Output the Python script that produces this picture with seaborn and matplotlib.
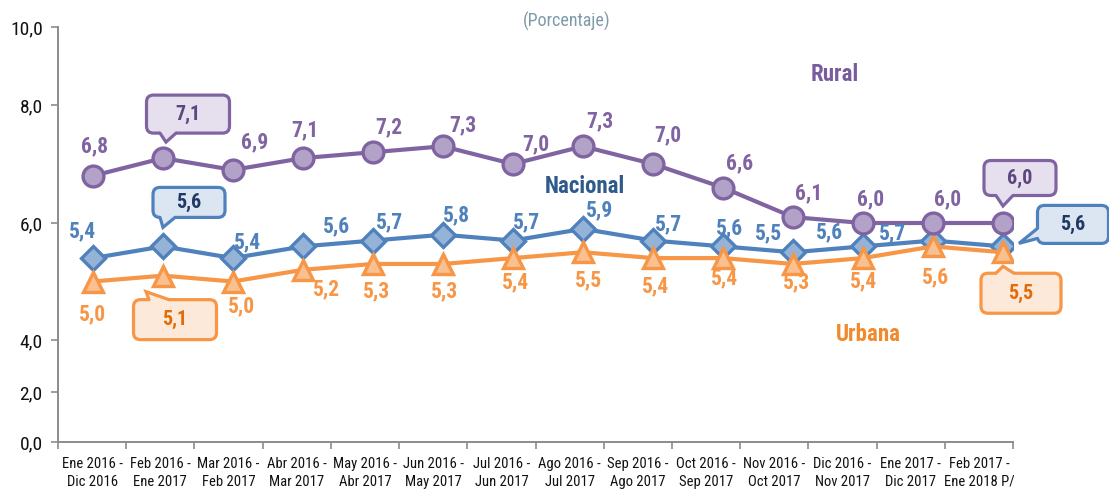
import numpy as np
import pandas as pd
import matplotlib
matplotlib.use("Agg")
import matplotlib.pyplot as plt
import seaborn as sns
from matplotlib import font_manager
from matplotlib.patches import FancyBboxPatch, Polygon
from matplotlib.lines import Line2D
from matplotlib.transforms import IdentityTransform

# ---- data -------------------------------------------------------------
periodos = [
    "Ene 2016 -\nDic 2016", "Feb 2016 -\nEne 2017", "Mar 2016 -\nFeb 2017",
    "Abr 2016 -\nMar 2017", "May 2016 -\nAbr 2017", "Jun 2016 -\nMay 2017",
    "Jul 2016 -\nJun 2017", "Ago 2016 -\nJul 2017", "Sep 2016 -\nAgo 2017",
    "Oct 2016 -\nSep 2017", "Nov 2016 -\nOct 2017", "Dic 2016 -\nNov 2017",
    "Ene 2017 -\nDic 2017", "Feb 2017 -\nEne 2018 P/",
]
rural = [6.8, 7.1, 6.9, 7.1, 7.2, 7.3, 7.0, 7.3, 7.0, 6.6, 6.1, 6.0, 6.0, 6.0]
nacional = [5.4, 5.6, 5.4, 5.6, 5.7, 5.8, 5.7, 5.9, 5.7, 5.6, 5.5, 5.6, 5.7, 5.6]
urbana = [5.0, 5.1, 5.0, 5.2, 5.3, 5.3, 5.4, 5.5, 5.4, 5.4, 5.3, 5.4, 5.6, 5.5]
y_ticks = [0, 2, 4, 6, 8, 10]

# ---- style ------------------------------------------------------------
sns.set_theme(style="white")


def pick_narrow_font():
    """Prefer a condensed sans face; otherwise the narrowest common one."""
    faces = font_manager.fontManager.ttflist
    names = {f.name for f in faces}
    for fam in ["Roboto Condensed", "Open Sans Condensed", "Liberation Sans Narrow",
                "DejaVu Sans Condensed", "Noto Sans Condensed"]:
        if fam in names:
            return fam, "normal"
    for f in faces:
        if f.name == "DejaVu Sans" and str(f.stretch) in ("condensed", "semi-condensed"):
            return "DejaVu Sans", "condensed"
    for fam in ["Roboto", "Lato", "Noto Sans"]:
        if fam in names:
            return fam, "normal"
    return "DejaVu Sans", "normal"


FAM, STRETCH = pick_narrow_font()
plt.rcParams["font.family"] = [FAM, "DejaVu Sans"]
plt.rcParams["font.stretch"] = STRETCH

C_RUR, F_RUR, T_RUR, B_RUR = "#8064a2", "#b3a2c7", "#5c4680", "#e6e0ee"
C_NAC, F_NAC, T_NAC, B_NAC = "#4f81bd", "#95b3d7", "#1f3864", "#dce6f2"
C_URB, F_URB, T_URB, B_URB = "#f79646", "#fac090", "#e26b0a", "#fde9d9"
AXIS_GRAY = "#8c8c8c"

# broken value axis: the 0-4 band is compressed
KNOTS = [-10, 0, 2, 4, 6, 8, 10, 20]
SPAN = [-250, 0, 50, 102, 219, 337, 415, 800]


def fwd(v):
    return np.interp(v, KNOTS, SPAN)


def inv(v):
    return np.interp(v, SPAN, KNOTS)


def coma(v):
    return f"{v:.1f}".replace(".", ",")


fig = plt.figure(figsize=(11.09, 4.90), dpi=100)
ax = fig.add_axes([58 / 1109, 48 / 490, 955 / 1109, 415 / 490])
ax.set_yscale("function", functions=(fwd, inv))

x = np.arange(len(periodos))
df = pd.DataFrame({"x": x, "Rural": rural, "Nacional": nacional, "Urbana": urbana})

sns.lineplot(data=df, x="x", y="Nacional", ax=ax, color=C_NAC, linewidth=3,
             marker="D", markersize=12, markerfacecolor=F_NAC,
             markeredgecolor=C_NAC, markeredgewidth=2.4, zorder=3)
sns.lineplot(data=df, x="x", y="Urbana", ax=ax, color=C_URB, linewidth=3,
             marker="^", markersize=15, markerfacecolor=F_URB,
             markeredgecolor=C_URB, markeredgewidth=2.4, zorder=4)
sns.lineplot(data=df, x="x", y="Rural", ax=ax, color=C_RUR, linewidth=3,
             marker="o", markersize=15, markerfacecolor=F_RUR,
             markeredgecolor=C_RUR, markeredgewidth=2.4, zorder=5)

# ---- axes -------------------------------------------------------------
ax.set_ylim(0, 10)
edges = np.linspace(-0.5, 13.143, len(periodos) + 1)
ax.set_xlim(edges[0], edges[-1])
ax.set_yticks(y_ticks)
ax.set_yticklabels([coma(v) for v in y_ticks])
ax.set_xticks((edges[:-1] + edges[1:]) / 2)
ax.set_xticklabels(periodos)
ax.set_xticks(edges, minor=True)
ax.set_xlabel("")
ax.set_ylabel("")
for s in ["top", "right"]:
    ax.spines[s].set_visible(False)
for s in ["left", "bottom"]:
    ax.spines[s].set_color(AXIS_GRAY)
    ax.spines[s].set_linewidth(1.4)
ax.tick_params(axis="y", which="major", left=True, length=5, width=1.2,
               color=AXIS_GRAY, pad=6, labelsize=14, labelcolor="#111111")
ax.tick_params(axis="x", which="major", bottom=False, length=0, pad=11,
               labelsize=10.5, labelcolor="#111111")
ax.tick_params(axis="x", which="minor", bottom=True, length=5, width=1.2,
               color=AXIS_GRAY)
for t in ax.get_xticklabels():
    t.set_linespacing(1.3)
ax.grid(False)

# ---- point labels -----------------------------------------------------
lab_rur = [(2, 29), None, (22, 28), (2, 28), (16, 25), (20, 21), (23, 20),
           (17, 25), (15, 29), (17, 24), (16, 24), (8, 24), (15, 24), None]
lab_nac = [(-10, 27), None, (15, 16), (34, 20), (17, 18), (13, 19), (14, 18),
           (17, 19), (16, 16), (7, 18), (-24, 19), (-33, 14), (-40, 7), None]
lab_urb = [(0, -33), None, (9, -25), (24, -20), (4, -27), (2, -27), (3, -24),
           (6, -28), (3, -28), (2, -20), (4, -18), (1, -23), (3, -31), None]

for vals, offs, col in [(rural, lab_rur, C_RUR), (nacional, lab_nac, C_NAC),
                        (urbana, lab_urb, C_URB)]:
    for i, (v, off) in enumerate(zip(vals, offs)):
        if off is None:
            continue
        ax.annotate(coma(v), (i, v), xytext=off, textcoords="offset pixels",
                    ha="center", va="center", fontsize=15.5, fontweight="bold",
                    color=col, zorder=8, annotation_clip=False)


# ---- speech-bubble callouts -------------------------------------------
def bubble(i, v, center, size, side, base, tip, fc, ec, tc):
    px, py = ax.transData.transform((i, v))
    cx, cy = px + center[0], py + center[1]
    w, h = size
    ident = IdentityTransform()
    ax.add_patch(FancyBboxPatch((cx - w / 2, cy - h / 2), w, h,
                                boxstyle="round,pad=0,rounding_size=7",
                                transform=ident, fc=fc, ec=ec, lw=2.3,
                                zorder=9, clip_on=False))
    if side == "bottom":
        e = cy - h / 2
        b1, b2, d = (px + base[0], e), (px + base[1], e), (0, 3)
    elif side == "top":
        e = cy + h / 2
        b1, b2, d = (px + base[0], e), (px + base[1], e), (0, -3)
    else:  # left
        e = cx - w / 2
        b1, b2, d = (e, py + base[0]), (e, py + base[1]), (3, 0)
    t = (px + tip[0], py + tip[1])
    fill = [(b1[0] + d[0], b1[1] + d[1]), b1, t, b2, (b2[0] + d[0], b2[1] + d[1])]
    ax.add_patch(Polygon(fill, closed=True, transform=ident, fc=fc, ec="none",
                         zorder=10, clip_on=False))
    ax.add_line(Line2D([b1[0], t[0], b2[0]], [b1[1], t[1], b2[1]], color=ec,
                       lw=2.3, transform=ident, zorder=11, clip_on=False,
                       solid_joinstyle="miter"))
    ax.text(cx, cy, coma(v), transform=ident, ha="center", va="center",
            fontsize=14.5, fontweight="bold", color=tc, zorder=12)


last = len(periodos) - 1
bubble(1, rural[1], (25, 44), (83, 38), "bottom", (-3, 13), (3, 16), B_RUR, C_RUR, T_RUR)
bubble(last, rural[last], (17, 45), (72, 35), "bottom", (-7, 10), (0, 17), B_RUR, C_RUR, T_RUR)
bubble(1, nacional[1], (26, 44), (72, 30), "bottom", (-3, 12), (0, 19), B_NAC, C_NAC, T_NAC)
bubble(last, nacional[last], (70, 22), (71, 38), "left", (18, 8), (16, 3), B_NAC, C_NAC, T_NAC)
bubble(1, urbana[1], (12, -44), (83, 40), "top", (-14, 6), (-17, -16), B_URB, C_URB, T_URB)
bubble(last, urbana[last], (18, -41), (80, 40), "top", (-7, 11), (0, -14), B_URB, C_URB, T_URB)

# ---- series names and unit --------------------------------------------
ax.text(10.6, 8.78, "Rural", ha="center", va="center", fontsize=16.5,
        fontweight="bold", color="#7a5c9e")
ax.text(7.03, 6.62, "Nacional", ha="center", va="center", fontsize=16.5,
        fontweight="bold", color="#2e5a8c")
ax.text(11.07, 4.09, "Urbana", ha="center", va="center", fontsize=16.5,
        fontweight="bold", color="#f08a2c")
fig.text(567 / 1109, 1 - 21 / 490, "(Porcentaje)", ha="center", va="center",
         fontsize=13, color="#7f9aa8")

fig.savefig("out.png", dpi=100)
